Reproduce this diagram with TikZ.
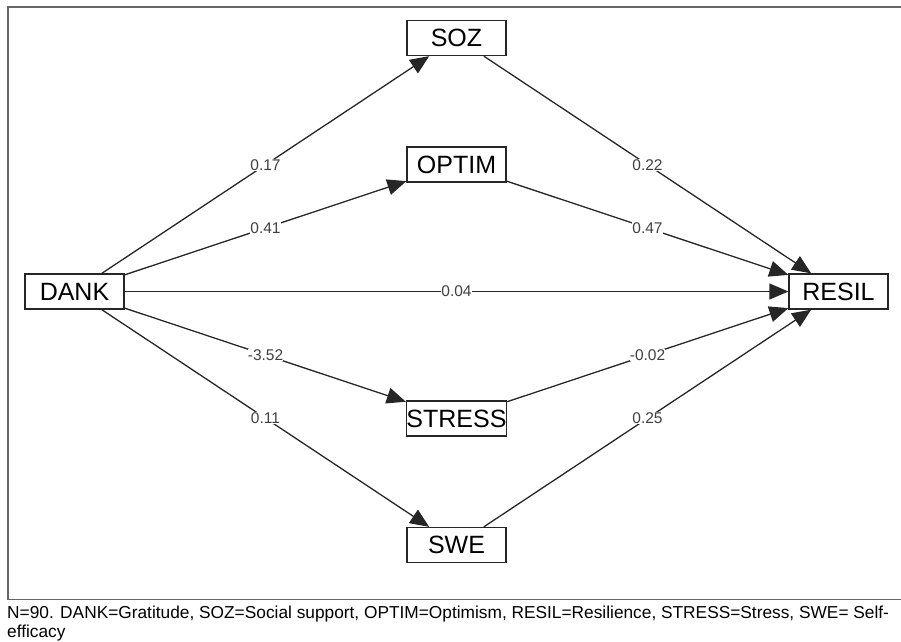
\documentclass[tikz,border=0pt]{standalone}
\usepackage{fontspec}
\setmainfont{Liberation Sans}
\usetikzlibrary{arrows.meta,calc}
\begin{document}
\begin{tikzpicture}[x=1pt,y=-1pt,
  var/.style={draw=black!85,line width=1.3pt,fill=white,minimum width=99pt,minimum height=35pt,inner sep=0pt,font=\fontsize{25}{25}\selectfont},
  path/.style={draw=black!85,line width=1.3pt,-{Triangle[length=19pt,width=16pt]}},
  lbl/.style={fill=white,inner sep=0.3pt,text=black!75,font=\fontsize{15.5}{15.5}\selectfont}]
\useasboundingbox (0,0) rectangle (901,641);
\clip (0,0) rectangle (901,641);
\draw[black!60,line width=1.6pt] (903,7) -- (8,7) -- (8,599.5) -- (903,599.5);
\node[var] (dank) at (74.5,291.5) {DANK};
\node[var] (soz) at (456.5,38) {SOZ};
\node[var] (optim) at (456.5,164.5) {OPTIM};
\node[var] (stress) at (456.5,418.5) {STRESS};
\node[var] (swe) at (456.5,545) {SWE};
\node[var] (resil) at (838.5,291.5) {RESIL};
\draw[path] (dank) -- (soz);
\draw[path] (dank) -- (optim);
\draw[path] (dank) -- (resil);
\draw[path] (dank) -- (stress);
\draw[path] (dank) -- (swe);
\draw[path] (soz) -- (resil);
\draw[path] (optim) -- (resil);
\draw[path] (stress) -- (resil);
\draw[path] (swe) -- (resil);
\node[lbl] (l1) at ($(dank)!0.5!(soz)$) {0.17};
\node[lbl] (l2) at ($(dank)!0.5!(optim)$) {0.41};
\node[lbl] (l3) at ($(dank)!0.5!(resil)$) {0.04};
\node[lbl] (l4) at ($(dank)!0.5!(stress)$) {-3.52};
\node[lbl] (l5) at ($(dank)!0.5!(swe)$) {0.11};
\node[lbl] (l6) at ($(soz)!0.5!(resil)$) {0.22};
\node[lbl] (l7) at ($(optim)!0.5!(resil)$) {0.47};
\node[lbl] (l8) at ($(stress)!0.5!(resil)$) {-0.02};
\node[lbl] (l9) at ($(swe)!0.5!(resil)$) {0.25};
\node[anchor=base west,inner sep=0pt,font=\fontsize{17.3}{20}\selectfont] (cap) at (7,618) {N=90. DANK=Gratitude, SOZ=Social support, OPTIM=Optimism, RESIL=Resilience, STRESS=Stress, SWE= Self-};
\node[anchor=base west,inner sep=0pt,font=\fontsize{17.3}{20}\selectfont] (cap2) at (7,637) {efficacy};
\end{tikzpicture}
\end{document}
